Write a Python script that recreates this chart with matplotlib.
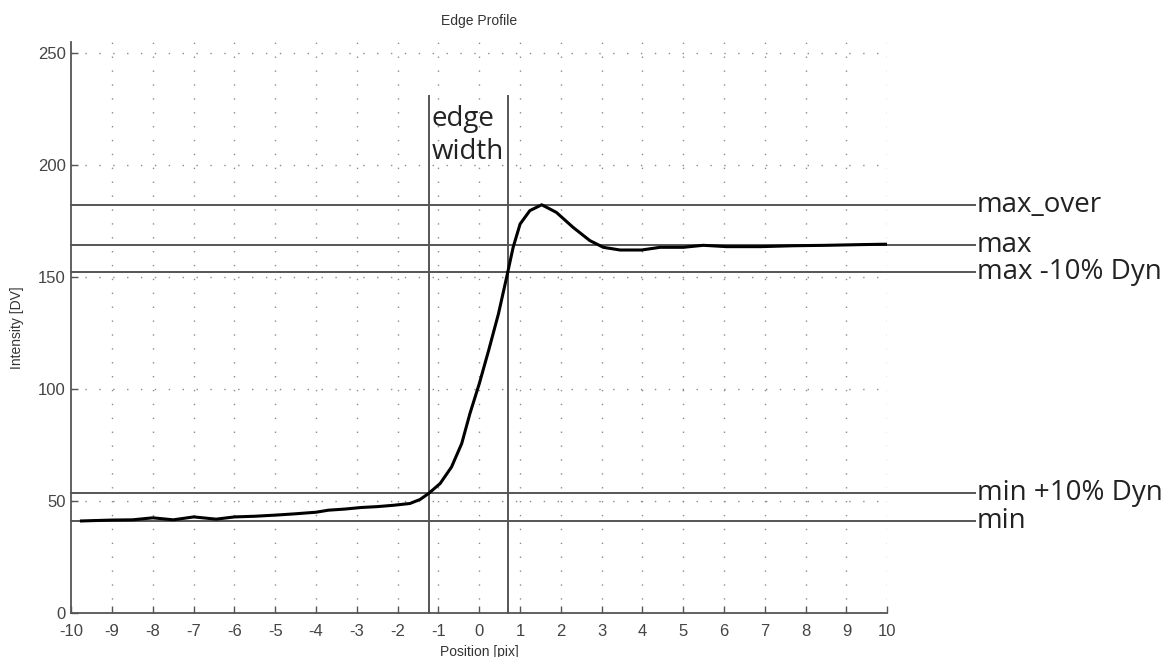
import numpy as np
import matplotlib
matplotlib.use('Agg')
import matplotlib.pyplot as plt

# edge profile samples
pos = [-9.75, -9.0, -8.5, -8.0, -7.5, -7.0, -6.45, -6.0, -5.5, -5.0, -4.5, -4.0,
       -3.7, -3.3, -2.9, -2.5, -2.1, -1.7, -1.45, -1.24, -0.96, -0.68, -0.43, -0.23,
       0.0, 0.23, 0.47, 0.67, 0.83, 1.0, 1.24, 1.53, 1.89, 2.3, 2.71, 3.04, 3.45,
       3.98, 4.43, 5.0, 5.49, 6.06, 6.9, 7.7, 8.52, 9.33, 10.0]
intensity = [41.1, 41.5, 41.6, 42.5, 41.6, 42.9, 41.9, 42.9, 43.2, 43.7, 44.3, 45.0,
             45.9, 46.4, 47.1, 47.5, 48.1, 48.9, 50.7, 53.4, 57.8, 65.2, 75.7, 89.0,
             102.4, 117.3, 133.6, 149.9, 163.3, 173.7, 179.7, 182.3, 178.9, 172.2, 166.3,
             163.3, 162.1, 162.1, 163.3, 163.3, 164.2, 163.6, 163.6, 164.0, 164.2, 164.5,
             164.7]

# reference levels
level_names = ['max_over', 'max', 'max -10% Dyn', 'min +10% Dyn', 'min']
level_values = [182.3, 164.5, 152.2, 53.4, 41.1]

# edge width bounds
edge_bounds = [-1.24, 0.70]
edge_top = 231

xticks = list(range(-10, 11))
yticks = [0, 50, 100, 150, 200, 250]

fig = plt.figure(figsize=(11.76, 6.57), dpi=100)
ax = fig.add_axes([0.0606, 0.067, 0.6939, 0.8691])

tick_font = 'Liberation Sans'
note_font = 'Open Sans'
txt_col = '#444444'

ax.set_xlim(-10, 10)
ax.set_ylim(0, 255)
ax.set_xticks(xticks)
ax.set_yticks(yticks)
ax.set_xticklabels([str(t) for t in xticks], fontfamily=tick_font, fontsize=12, color=txt_col)
ax.set_yticklabels([str(t) for t in yticks], fontfamily=tick_font, fontsize=12, color=txt_col)
ax.tick_params(direction='in', length=5, width=1, color='#555555')
ax.tick_params(axis='x', pad=8)
ax.tick_params(axis='y', pad=4)

for side in ['top', 'right']:
    ax.spines[side].set_visible(False)
for side in ['left', 'bottom']:
    ax.spines[side].set_color('#555555')
    ax.spines[side].set_linewidth(1.3)

# dotted grid at the tick positions
for t in xticks[1:]:
    ax.axvline(t, color='#8a8a8a', lw=1.0, ls=(0, (1, 9)), zorder=0)
for t in yticks[1:]:
    ax.axhline(t, color='#8a8a8a', lw=1.0, ls=(0, (1, 9)), zorder=0)

# horizontal level lines running out past the axes to their labels
line_end = 12.15
for name, val in zip(level_names, level_values):
    ax.plot([-10, line_end], [val, val], color='#555555', lw=1.4, clip_on=False, zorder=2)
    ax.text(line_end + 0.05, val, name, fontfamily=note_font, fontsize=20,
            color='#222222', va='center', ha='left', clip_on=False)

for xb in edge_bounds:
    ax.plot([xb, xb], [0, edge_top], color='#555555', lw=1.4, clip_on=False, zorder=2)
ax.text(edge_bounds[0] + 0.07, 227, 'edge\nwidth', fontfamily=note_font, fontsize=20,
        color='#222222', va='top', ha='left', linespacing=1.25)

ax.plot(pos, intensity, color='black', lw=2.2, zorder=3, solid_joinstyle='round')

ax.set_title('Edge Profile', fontfamily=tick_font, fontsize=10, color='#333333', pad=12)
ax.set_xlabel('Position [pix]', fontfamily=tick_font, fontsize=10, color='#333333', labelpad=4)
ax.set_ylabel('Intensity [DV]', fontfamily=tick_font, fontsize=10, color='#333333', labelpad=10)

fig.savefig('out.png', dpi=100, facecolor='white')
